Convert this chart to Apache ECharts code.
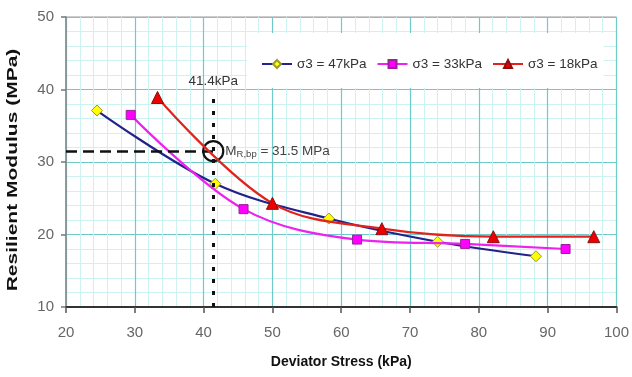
<!DOCTYPE html>
<html>
<head>
<meta charset="utf-8">
<script src="https://cdn.jsdelivr.net/npm/echarts@6/dist/echarts.min.js"></script>
<style>
html,body{margin:0;padding:0;background:#fff;}
#chart{width:632px;height:377px;}
</style>
</head>
<body>
<div id="chart"></div>
<script>
// ---- data ----
const seriesNames = ['σ3 = 47kPa', 'σ3 = 33kPa', 'σ3 = 18kPa'];
const s47X = [24.5, 41.7, 58.2, 74.0, 88.3];
const s47Y = [37.1, 27.0, 22.2, 19.0, 17.0];
const s33X = [29.4, 45.8, 62.3, 78.0, 92.6];
const s33Y = [36.5, 23.5, 19.3, 18.7, 18.0];
const s18X = [33.3, 50.0, 65.9, 82.1, 96.7];
const s18Y = [38.9, 24.3, 20.8, 19.7, 19.7];
const xTicks = [20, 30, 40, 50, 60, 70, 80, 90, 100];
const yTicks = [10, 20, 30, 40, 50];
const breakX = 41.4;        // kPa
const breakY = 31.5;        // MPa
const breakLineTopY = 39.4; // top of vertical guide
const xTitle = 'Deviator Stress (kPa)';
const yTitle = 'Resilient Modulus (MPa)';

function pairs(xs, ys) { return xs.map((x, i) => [x, ys[i]]); }

const FONT = 'Liberation Sans, Arial, sans-serif';
const chart = echarts.init(document.getElementById('chart'), null, {renderer: 'canvas'});

const option = {
  backgroundColor: '#fff',
  animation: false,
  textStyle: {fontFamily: FONT},
  grid: {left: 66, right: 13, top: 17, bottom: 70, show: true, borderColor: '#9a9a9a', borderWidth: 1, backgroundColor: '#fff'},
  legend: {
    data: seriesNames,
    left: 247, top: 33,
    backgroundColor: '#fff',
    padding: [24, 6, 17, 14],
    itemGap: 10,
    itemWidth: 30, itemHeight: 10,
    textStyle: {fontSize: 13.5, color: '#333', fontFamily: FONT}
  },
  xAxis: {
    type: 'value', min: xTicks[0], max: xTicks[xTicks.length - 1], interval: 10,
    name: xTitle, nameLocation: 'middle', nameGap: 48,
    nameTextStyle: {fontSize: 14, fontWeight: 'bold', color: '#111', fontFamily: FONT},
    axisLine: {show: true, onZero: false, lineStyle: {color: '#333', width: 2}},
    axisTick: {show: true, length: 6, lineStyle: {color: '#555', width: 1.5}},
    axisLabel: {fontSize: 15, color: '#666', margin: 18, fontFamily: FONT},
    splitLine: {show: true, lineStyle: {color: '#6fcaca', width: 1.2}},
    minorTick: {show: false, splitNumber: 5},
    minorSplitLine: {show: true, lineStyle: {color: '#cdf2f2', width: 1}}
  },
  yAxis: {
    type: 'value', min: yTicks[0], max: yTicks[yTicks.length - 1], interval: 10,
    axisLine: {show: true, onZero: false, lineStyle: {color: '#888', width: 1.5}},
    axisTick: {show: true, length: 5, lineStyle: {color: '#777', width: 1.5}},
    axisLabel: {fontSize: 15, color: '#666', margin: 12, fontFamily: FONT},
    splitLine: {show: true, lineStyle: {color: '#6fcaca', width: 1.2}},
    minorTick: {show: false, splitNumber: 5},
    minorSplitLine: {show: true, lineStyle: {color: '#cdf2f2', width: 1}}
  },
  graphic: [{
    type: 'text',
    x: 13, y: 170,
    rotation: Math.PI / 2,
    scaleX: 1.5,
    style: {
      text: yTitle,
      font: 'bold 14px ' + FONT,
      fill: '#111',
      textAlign: 'center',
      textVerticalAlign: 'middle'
    }
  }],
  series: [
    {
      name: seriesNames[0], type: 'line', smooth: 0.35,
      data: pairs(s47X, s47Y),
      symbol: 'diamond', symbolSize: 11,
      lineStyle: {color: '#22228a', width: 2.2},
      itemStyle: {color: '#ffff00', borderColor: '#9a9a30', borderWidth: 1},
      z: 3,
      markLine: {
        silent: true, symbol: 'none', animation: false,
        data: [
          [{coord: [breakX, yTicks[0]], lineStyle: {type: [4, 8], width: 3, color: '#111'}},
           {coord: [breakX, breakLineTopY],
            label: {show: true, position: 'end', formatter: breakX + 'kPa', fontSize: 13.5, color: '#333', distance: 6, fontFamily: FONT}}],
          [{coord: [xTicks[0], breakY], lineStyle: {type: [11, 6], width: 2.5, color: '#111'}},
           {coord: [breakX, breakY], label: {show: false}}]
        ],
        label: {show: false}
      },
      markPoint: {
        silent: true, animation: false,
        data: [{coord: [breakX, breakY]}],
        symbol: 'circle', symbolSize: 20,
        itemStyle: {color: 'rgba(0,0,0,0)', borderColor: '#111', borderWidth: 2.2},
        label: {
          show: true, position: 'right', distance: 1,
          formatter: '{m|M}{s|R,bp}{m| = ' + breakY + ' MPa}',
          rich: {
            m: {fontSize: 13.5, color: '#444', fontFamily: FONT},
            s: {fontSize: 9.5, color: '#444', fontFamily: FONT, verticalAlign: 'bottom', padding: [6, 0, 0, 0]}
          }
        }
      }
    },
    {
      name: seriesNames[1], type: 'line', smooth: 0.35,
      data: pairs(s33X, s33Y),
      symbol: 'rect', symbolSize: 9,
      lineStyle: {color: '#ee22ee', width: 2.2},
      itemStyle: {color: '#ff00ff', borderColor: '#992299', borderWidth: 1},
      z: 4
    },
    {
      name: seriesNames[2], type: 'line', smooth: 0.35,
      data: pairs(s18X, s18Y),
      symbol: 'triangle', symbolSize: 12,
      lineStyle: {color: '#e2231d', width: 2.2},
      itemStyle: {color: '#ee0000', borderColor: '#8a1010', borderWidth: 1},
      z: 5
    }
  ]
};
chart.setOption(option);
</script>
</body>
</html>
